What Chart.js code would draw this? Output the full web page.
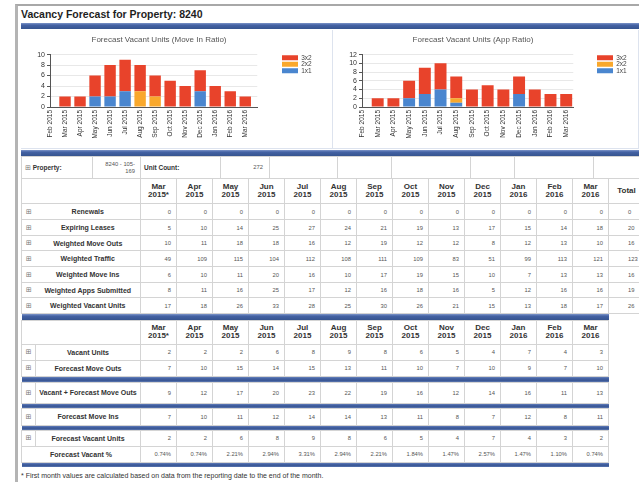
<!DOCTYPE html>
<html lang="en-US">
<head>
<meta charset="utf-8">
<title>Vacancy Forecast for Property: 8240</title>
<script src="https://cdn.jsdelivr.net/npm/chart.js@4.4.1/dist/chart.umd.min.js"></script>
<style>
html, body { margin: 0; padding: 0; background: #fff; }
body { position: relative; width: 639px; height: 482px; overflow: hidden; font-family: "Liberation Sans", Arial, sans-serif; color: #333; }
#frame { position: absolute; left: 15px; top: 4px; width: 700px; height: 600px; border-top: 2px solid #a8a8a8; border-left: 3px solid #b4b4b4; }
#title { position: absolute; left: 21px; top: 8px; font-size: 10.5px; font-weight: bold; color: #1e1e1e; line-height: 12px; }
.bar { position: absolute; left: 21px; background: linear-gradient(#7d95c9 0%, #4462a4 35%, #36548f 100%); }
.panel { position: absolute; top: 30px; height: 119px; border-right: 1px solid #dde3ee; border-bottom: 1px solid #dde3ee; box-sizing: border-box; }
canvas { position: absolute; }
table { position: absolute; border-collapse: collapse; table-layout: fixed; }
td { border: 1px solid #d4d4d4; padding: 0; overflow: hidden; white-space: nowrap; }
.num { text-align: right; padding-right: 5px; font-size: 5.8px; color: #555; }
.tot { text-align: left; padding-left: 19px; font-size: 5.8px; color: #555; }
.hd { text-align: center; font-size: 8px; font-weight: bold; color: #333; line-height: 8.5px; white-space: normal; }
.lbl { text-align: center; font-size: 7px; font-weight: bold; color: #333; }
.ico { text-align: center; font-family: "DejaVu Sans", sans-serif; font-size: 7px; color: #777; }
.nbr { border-right: none; }
.nbl { border-left: none; }
.prop { font-size: 6.5px; font-weight: bold; color: #333; padding-left: 3px; }
.pval { font-size: 5.8px; color: #555; text-align: right; padding-right: 5px; line-height: 6.5px; white-space: normal; }
tr.sep td { border: none; padding: 0; background: linear-gradient(#7d95c9 0%, #4462a4 35%, #36548f 100%); }
#note { position: absolute; left: 21px; top: 472px; font-size: 7px; line-height: 8px; color: #333; }
</style>
</head>
<body>
<div id="frame"></div>
<div id="title">Vacancy Forecast for Property: 8240</div>
<div class="bar" style="top:23px; height:6px; width:618px;"></div>
<div class="panel" style="left:21px; width:312px;"></div>
<div class="panel" style="left:333px; width:306px;"></div>
<canvas id="chartMoveIn" width="310" height="118" style="left:21px; top:30px;"></canvas>
<canvas id="chartApp" width="306" height="118" style="left:333px; top:30px;"></canvas>
<div class="bar" style="top:150px; height:6px; width:618px;"></div>
<div id="tables"></div>
<div id="note">* First month values are calculated based on data from the reporting date to the end of the month.</div>
<script>
// chart data
var chartLabels = ['Feb 2015', 'Mar 2015', 'Apr 2015', 'May 2015', 'Jun 2015', 'Jul 2015', 'Aug 2015',
  'Sep 2015', 'Oct 2015', 'Nov 2015', 'Dec 2015', 'Jan 2016', 'Feb 2016', 'Mar 2016'];
var moveIn1x1 = [0, 0, 0, 2, 2, 3, 0, 0, 0, 0, 3, 0, 0, 0];
var moveIn2x2 = [0, 0, 0, 0, 0, 0, 3, 2, 0, 0, 0, 0, 0, 0];
var moveIn3x2 = [0, 2, 2, 4, 6, 6, 5, 4, 5, 4, 4, 4, 3, 2];
var app1x1 = [0, 0, 0, 2, 3, 4, 1, 0, 0, 0, 3, 0, 0, 0];
var app2x2 = [0, 0, 0, 0, 0, 0, 1, 0, 0, 0, 0, 0, 0, 0];
var app3x2 = [0, 2, 2, 4, 6, 6, 5, 4, 5, 4, 4, 4, 3, 3];

// table data
var tableMonths = ['Mar 2015*', 'Apr 2015', 'May 2015', 'Jun 2015', 'Jul 2015', 'Aug 2015', 'Sep 2015',
  'Oct 2015', 'Nov 2015', 'Dec 2015', 'Jan 2016', 'Feb 2016', 'Mar 2016'];
var renewals        = [0, 0, 0, 0, 0, 0, 0, 0, 0, 0, 0, 0, 0];
var expiringLeases  = [5, 10, 14, 25, 27, 24, 21, 19, 13, 17, 15, 14, 18];
var weightedMoveOuts = [10, 11, 18, 18, 16, 12, 19, 12, 12, 8, 12, 13, 10];
var weightedTraffic = [49, 109, 115, 104, 112, 108, 111, 109, 83, 51, 99, 113, 121];
var weightedMoveIns = [6, 10, 11, 20, 16, 10, 17, 19, 15, 10, 7, 13, 13];
var weightedApps    = [8, 11, 16, 25, 17, 12, 16, 18, 16, 5, 12, 16, 16];
var weightedVacant  = [17, 18, 26, 33, 28, 25, 30, 26, 21, 15, 13, 18, 17];
var totalsShown     = ['0', '20', '16', '123', '16', '19', '26'];

var vacantUnits      = [2, 2, 2, 6, 8, 9, 8, 6, 5, 4, 7, 4, 3];
var forecastMoveOuts = [7, 10, 15, 14, 15, 13, 11, 10, 7, 10, 9, 7, 10];
var vacantPlusMoveOuts = [9, 12, 17, 20, 23, 22, 19, 16, 12, 14, 16, 11, 13];
var forecastMoveIns  = [7, 10, 11, 12, 14, 14, 13, 11, 8, 7, 12, 8, 11];
var forecastVacant   = [2, 2, 6, 8, 9, 8, 6, 5, 4, 7, 4, 3, 2];
var forecastVacantPct = ['0.74%', '0.74%', '2.21%', '2.94%', '3.31%', '2.94%', '2.21%', '1.84%',
  '1.47%', '2.57%', '1.47%', '1.10%', '0.74%'];

var RED = '#e8432b', ORANGE = '#f9a82c', BLUE = '#4a86cf';

Chart.defaults.font.family = '"Liberation Sans", Arial, sans-serif';
Chart.defaults.color = '#333';

// moves the legend to a fixed x inside the canvas
var legendPin = {
  id: 'legendPin',
  afterLayout: function(chart, args, opts) {
    var lg = chart.legend;
    if (!lg) return;
    var w = lg.right - lg.left;
    lg.left = opts.x;
    lg.right = opts.x + w;
  }
};

function points(arr) {
  return arr.map(function(v, i) { return {x: i, y: v}; });
}

function makeChart(id, title, s1x1, s2x2, s3x2, yMax, xMax, yWidth, padRight, legendX) {
  return new Chart(document.getElementById(id).getContext('2d'), {
    type: 'bar',
    data: {
      datasets: [
        {label: '1x1', data: points(s1x1), backgroundColor: BLUE},
        {label: '2x2', data: points(s2x2), backgroundColor: ORANGE},
        {label: '3x2', data: points(s3x2), backgroundColor: RED}
      ]
    },
    options: {
      responsive: false,
      animation: false,
      barPercentage: 0.95,
      categoryPercentage: 0.8,
      layout: {padding: {left: 0, right: padRight, top: 0, bottom: 0}},
      scales: {
        x: {
          type: 'linear', min: 0, max: xMax, stacked: true, offset: false,
          grid: {display: false, drawTicks: false},
          border: {display: true, color: '#555'},
          ticks: {
            stepSize: 1, autoSkip: false, includeBounds: false, maxTicksLimit: 30,
            minRotation: 90, maxRotation: 90, padding: 3,
            font: {size: 6.5}, color: '#333',
            callback: function(v) { return chartLabels[v] || ''; }
          },
          afterFit: function(s) { s.height = 41; }
        },
        y: {
          stacked: true, min: 0, max: yMax,
          grid: {color: '#e8e8e8', tickLength: 3, tickColor: '#555'},
          border: {color: '#555'},
          ticks: {stepSize: 2, autoSkip: false, maxTicksLimit: 20, padding: 2, font: {size: 7}, color: '#333'},
          afterFit: function(s) { s.width = yWidth; }
        }
      },
      plugins: {
        title: {display: true, text: title, color: '#555', font: {size: 8, weight: 'normal'},
          padding: {top: 5, bottom: 10}},
        legend: {
          position: 'right', align: 'start', reverse: true, fullSize: false,
          labels: {boxWidth: 16, boxHeight: 5, padding: 0, font: {size: 6.5}, color: '#444'}
        },
        tooltip: {enabled: false},
        legendPin: {x: legendX}
      }
    },
    plugins: [legendPin]
  });
}

makeChart('chartMoveIn', 'Forecast Vacant Units (Move In Ratio)', moveIn1x1, moveIn2x2, moveIn3x2,
  10, 13.8, 29, 34, 261);
makeChart('chartApp', 'Forecast Vacant Units (App Ratio)', app1x1, app2x2, app3x2,
  12, 13.45, 29, 26, 264);

// tables
function numCells(vals) {
  return vals.map(function(v) { return '<td class="num">' + v + '</td>'; }).join('');
}
function colgroup(withTotal) {
  var s = '<colgroup><col style="width:14px"><col style="width:105px">';
  for (var i = 0; i < tableMonths.length; i++) s += '<col style="width:36px">';
  if (withTotal) s += '<col style="width:36px">';
  return s + '</colgroup>';
}
function headerRow(withTotal, h) {
  var s = '<tr style="height:' + h + 'px"><td colspan="2"></td>';
  tableMonths.forEach(function(m) {
    var p = m.split(' ');
    s += '<td class="hd">' + p[0] + '<br>' + p[1] + '</td>';
  });
  if (withTotal) s += '<td class="hd">Total</td>';
  return s + '</tr>';
}
function sepRow(h, span) {
  return '<tr class="sep" style="height:' + h + 'px"><td colspan="' + span + '"></td></tr>';
}

var html = '';

// property row
var propCols = [71, 48, 80, 49, 68, 54, 79, 44, 79, 46];
html += '<table style="left:21px; top:156px; width:618px;"><colgroup>';
propCols.forEach(function(w) { html += '<col style="width:' + w + 'px">'; });
html += '</colgroup><tr style="height:22px">' +
  '<td class="prop"><span class="ico" style="font-weight:normal">&#8862;</span> Property:</td>' +
  '<td class="pval">8240 - 105-<br>169</td>' +
  '<td class="prop">Unit Count:</td>' +
  '<td class="pval" style="padding-right:6px">272</td>' +
  '<td></td><td></td><td></td><td></td><td></td><td></td></tr></table>';

// upper table
var upperRows = [
  ['Renewals', renewals, 16],
  ['Expiring Leases', expiringLeases, 16],
  ['Weighted Move Outs', weightedMoveOuts, 15],
  ['Weighted Traffic', weightedTraffic, 16],
  ['Weighted Move Ins', weightedMoveIns, 16],
  ['Weighted Apps Submitted', weightedApps, 15],
  ['Weighted Vacant Units', weightedVacant, 16]
];
html += '<table style="left:21px; top:178px; width:623px;">' + colgroup(true) + headerRow(true, 25);
upperRows.forEach(function(r, i) {
  html += '<tr style="height:' + r[2] + 'px"><td class="ico nbr">&#8862;</td><td class="lbl nbl">' + r[0] +
    '</td>' + numCells(r[1]) + '<td class="tot">' + totalsShown[i] + '</td></tr>';
});
html += '</table>';

// lower table
var span = tableMonths.length + 2;
function lowerRow(label, vals, h, icon) {
  var s = '<tr style="height:' + h + 'px">';
  if (icon) s += '<td class="ico">&#8862;</td><td class="lbl">' + label + '</td>';
  else s += '<td class="lbl" colspan="2">' + label + '</td>';
  return s + numCells(vals) + '</tr>';
}
html += '<table style="left:21px; top:314px; width:587px;">' + colgroup(false) +
  sepRow(6, span) + headerRow(false, 24) +
  lowerRow('Vacant Units', vacantUnits, 16, true) +
  lowerRow('Forecast Move Outs', forecastMoveOuts, 16, true) +
  sepRow(6, span) +
  lowerRow('Vacant + Forecast Move Outs', vacantPlusMoveOuts, 21, true) +
  sepRow(5, span) +
  lowerRow('Forecast Move Ins', forecastMoveIns, 17, true) +
  sepRow(5, span) +
  lowerRow('Forecast Vacant Units', forecastVacant, 16, true) +
  lowerRow('Forecast Vacant %', forecastVacantPct, 16, false) +
  sepRow(5, span) + '</table>';

document.getElementById('tables').innerHTML = html;
</script>
</body>
</html>
